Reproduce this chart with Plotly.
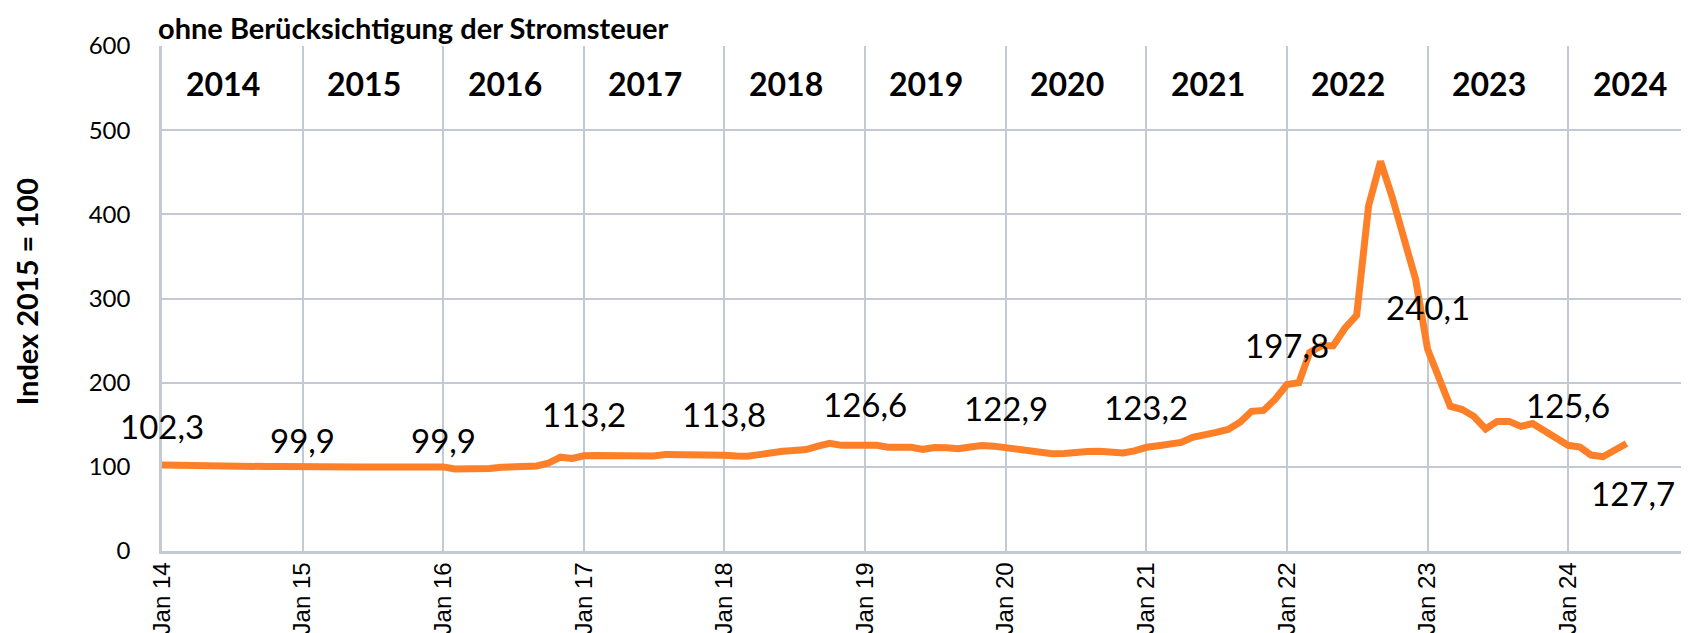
import plotly.graph_objects as go

# monthly index values (2015 = 100), Jan 2014 .. Jun 2024
years = list(range(2014, 2025))
idx_2014 = [102.3, 102.0, 101.4, 100.3, 100.0, 100.0, 100.0, 100.2, 100.2, 100.3, 100.4, 100.6]
idx_2015 = [99.9, 100.4, 100.5, 100.2, 100.0, 99.8, 99.7, 99.8, 99.6, 99.3, 101.2, 101.5]
idx_2016 = [99.9, 97.5, 97.0, 97.3, 98.0, 99.5, 100.5, 100.8, 101.0, 104.5, 111.5, 110.0]
idx_2017 = [113.2, 113.5, 113.0, 112.5, 112.5, 112.7, 112.8, 114.8, 115.0, 114.8, 113.6, 113.6]
idx_2018 = [113.8, 113.0, 112.7, 114.5, 117.0, 118.5, 119.5, 120.5, 124.5, 128.0, 125.5, 126.0]
idx_2019 = [126.6, 125.5, 123.4, 123.4, 123.2, 120.8, 123.0, 122.8, 121.5, 123.5, 125.2, 124.6]
idx_2020 = [122.9, 120.5, 118.0, 116.0, 115.5, 115.8, 118.0, 118.3, 118.5, 118.3, 116.5, 119.0]
idx_2021 = [123.2, 125.0, 127.0, 129.0, 135.0, 139.0, 141.0, 144.5, 153.0, 166.0, 167.0, 180.0]
idx_2022 = [197.8, 200.0, 236.0, 244.0, 244.0, 265.0, 280.0, 410.0, 463.0, 421.0, 370.5, 323.0]
idx_2023 = [240.1, 203.0, 172.0, 168.0, 160.0, 145.0, 154.0, 154.0, 148.0, 151.5, 143.5, 135.5]
idx_2024 = [125.6, 123.5, 114.0, 112.0, 119.5, 127.7]

values = (idx_2014 + idx_2015 + idx_2016 + idx_2017 + idx_2018 + idx_2019
          + idx_2020 + idx_2021 + idx_2022 + idx_2023 + idx_2024)
dates = [f"{2014 + i // 12}-{i % 12 + 1:02d}-01" for i in range(len(values))]

# points that carry a value label: every January plus the last month
label_idx = [i * 12 for i in range(len(years))] + [len(values) - 1]
# vertical offset of each label (px above the point, negative = below)
label_lift = [39, 27, 27, 42, 41, 40, 40, 40, 40, 42, 40, -49]

ORANGE = "#FD7F28"
GRID = "#C3CAD4"
CAL = "Lato, Carlito, Calibri, sans-serif"

fig = go.Figure()
fig.add_trace(go.Scatter(
    x=dates, y=values, mode="lines",
    line=dict(color=ORANGE, width=7),
    hoverinfo="skip",
))

def fmt(v):
    return f"{v:.1f}".replace(".", ",")

annotations = []
for i, lift in zip(label_idx, label_lift):
    last = i == len(values) - 1
    annotations.append(dict(
        x=dates[i], y=values[i], xref="x", yref="y",
        text=fmt(values[i]), showarrow=False,
        font=dict(family=CAL, size=33, color="#000"),
        xanchor="right" if last else "center", yanchor="middle",
        yshift=lift, xshift=50 if last else 0,
    ))

# year captions inside the top band
for y in years:
    annotations.append(dict(
        x=f"{y}-06-09", y=556, xref="x", yref="y",
        text=f"<b>{y}</b>", showarrow=False,
        font=dict(family=CAL, size=32, color="#000"),
        xanchor="center", yanchor="middle",
    ))

annotations.append(dict(
    x=-0.004, y=1.075, xref="paper", yref="paper",
    text="<b>ohne Berücksichtigung der Stromsteuer</b>", showarrow=False,
    font=dict(family=CAL, size=29, color="#000"),
    xanchor="left", yanchor="top",
))
annotations.append(dict(
    x=-0.088, y=0.514, xref="paper", yref="paper",
    text="<b>Index 2015 = 100</b>", showarrow=False, textangle=-90,
    font=dict(family=CAL, size=29, color="#000"),
    xanchor="center", yanchor="middle",
))

fig.update_layout(
    width=1689, height=633,
    margin=dict(l=154, r=0, t=38, b=90, autoexpand=False),
    paper_bgcolor="white", plot_bgcolor="white",
    showlegend=False,
    annotations=annotations,
)
fig.update_xaxes(
    type="date", range=["2014-01-01", "2024-12-01"],
    tickvals=[f"{y}-01-01" for y in years],
    ticktext=[f"Jan {str(y)[2:]}" for y in years],
    tickangle=-90,
    tickfont=dict(family="Liberation Sans, Arial", size=24, color="#000"),
    showgrid=True, gridcolor=GRID, gridwidth=2,
    showline=True, linecolor=GRID, linewidth=2.5,
    ticks="", ticklabelstandoff=-1, automargin=False,
    zeroline=False,
)
fig.update_yaxes(
    range=[0, 600], dtick=100,
    tickfont=dict(family=CAL, size=24, color="#000"),
    showgrid=True, gridcolor=GRID, gridwidth=2,
    showline=True, linecolor=GRID, linewidth=2.5,
    ticks="", ticklabelstandoff=24, automargin=False,
    zeroline=False,
)

fig.write_html("out.html")
